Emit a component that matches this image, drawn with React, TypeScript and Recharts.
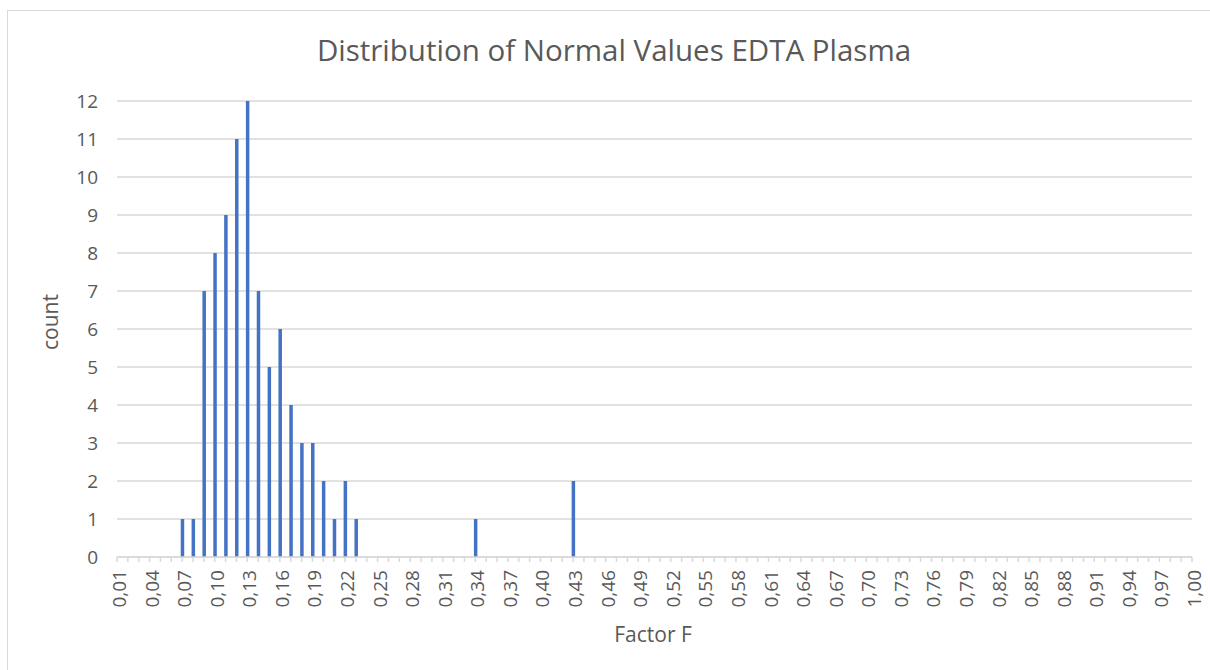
import React from 'react';
import { BarChart, Bar, XAxis, YAxis, CartesianGrid } from 'recharts';

// Category bins of Factor F (x axis)
const categories = [
  0.01, 0.02, 0.03, 0.04, 0.05, 0.06, 0.07, 0.08, 0.09, 0.1,
  0.11, 0.12, 0.13, 0.14, 0.15, 0.16, 0.17, 0.18, 0.19, 0.2,
  0.21, 0.22, 0.23, 0.24, 0.25, 0.26, 0.27, 0.28, 0.29, 0.3,
  0.31, 0.32, 0.33, 0.34, 0.35, 0.36, 0.37, 0.38, 0.39, 0.4,
  0.41, 0.42, 0.43, 0.44, 0.45, 0.46, 0.47, 0.48, 0.49, 0.5,
  0.51, 0.52, 0.53, 0.54, 0.55, 0.56, 0.57, 0.58, 0.59, 0.6,
  0.61, 0.62, 0.63, 0.64, 0.65, 0.66, 0.67, 0.68, 0.69, 0.7,
  0.71, 0.72, 0.73, 0.74, 0.75, 0.76, 0.77, 0.78, 0.79, 0.8,
  0.81, 0.82, 0.83, 0.84, 0.85, 0.86, 0.87, 0.88, 0.89, 0.9,
  0.91, 0.92, 0.93, 0.94, 0.95, 0.96, 0.97, 0.98, 0.99, 1.0,
];

// Non-empty bins and their counts
const binValues = [0.07, 0.08, 0.09, 0.1, 0.11, 0.12, 0.13, 0.14, 0.15, 0.16, 0.17, 0.18, 0.19, 0.2, 0.21, 0.22, 0.23, 0.34, 0.43];
const binCounts = [1, 1, 7, 8, 9, 11, 12, 7, 5, 6, 4, 3, 3, 2, 1, 2, 1, 1, 2];

const yTicks = [0, 1, 2, 3, 4, 5, 6, 7, 8, 9, 10, 11, 12];

const TITLE = 'Distribution of Normal Values EDTA Plasma';
const X_TITLE = 'Factor F';
const Y_TITLE = 'count';

const data = categories.map((c) => {
  const i = binValues.indexOf(c);
  return { x: c, count: i >= 0 ? binCounts[i] : 0 };
});

const fmt = (v: number) => v.toFixed(2).replace('.', ',');

const FONT = '"Open Sans", sans-serif';
const GREY = '#595959';
const LINE = '#d9d9d9';
const BLUE = '#4472C4';

const XTick = (props: any) => {
  const { x, y, payload } = props;
  const k = Math.round(payload.value * 100);
  if (k % 3 !== 1) return <g />;
  const tx = x + 2;
  return (
    <text
      x={tx}
      y={y}
      transform={`rotate(-90 ${tx} ${y})`}
      textAnchor="end"
      dominantBaseline="central"
      fontFamily={FONT}
      fontSize={19}
      fill={GREY}
    >
      {fmt(payload.value)}
    </text>
  );
};

export default function App() {
  return (
    <div
      style={{
        position: 'absolute',
        left: 0,
        top: 0,
        width: 1210,
        height: 670,
        background: '#fff',
        overflow: 'hidden',
      }}
    >
      <div
        style={{
          position: 'absolute',
          left: 7,
          top: 10,
          width: 1240,
          height: 700,
          border: `1.5px solid ${LINE}`,
        }}
      />
      <div style={{ position: 'absolute', left: 0, top: 0 }}>
        <BarChart
          width={1210}
          height={670}
          data={data}
          margin={{ top: 101, right: 18, left: 57, bottom: 53 }}
        >
          <CartesianGrid vertical={false} stroke={LINE} strokeWidth={1.5} />
          <XAxis
            type="number"
            dataKey="x"
            domain={[0.01, 1]}
            ticks={categories}
            interval={0}
            allowDataOverflow
            height={60}
            axisLine={{ stroke: LINE, strokeWidth: 1.5 }}
            tickLine={{ stroke: LINE, strokeWidth: 1.5 }}
            tickSize={5}
            tickMargin={8}
            tick={<XTick />}
          />
          <YAxis
            type="number"
            domain={[0, 12]}
            ticks={yTicks}
            interval={0}
            width={60}
            axisLine={false}
            tickLine={false}
            tickSize={6}
            tickMargin={13}
            tick={{ fontFamily: FONT, fontSize: 19, fill: GREY }}
          />
          <Bar dataKey="count" fill={BLUE} barSize={3.5} isAnimationActive={false} />
        </BarChart>
      </div>
      <svg
        width={1210}
        height={670}
        style={{ position: 'absolute', left: 0, top: 0, pointerEvents: 'none' }}
      >
        <text x={614} y={61} textAnchor="middle" fontFamily={FONT} fontSize={29.5} fill={GREY}>
          {TITLE}
        </text>
        <text x={653} y={642} textAnchor="middle" fontFamily={FONT} fontSize={21} fill={GREY}>
          {X_TITLE}
        </text>
        <text
          x={58}
          y={322}
          transform="rotate(-90 58 322)"
          textAnchor="middle"
          fontFamily={FONT}
          fontSize={21}
          fill={GREY}
        >
          {Y_TITLE}
        </text>
      </svg>
    </div>
  );
}
